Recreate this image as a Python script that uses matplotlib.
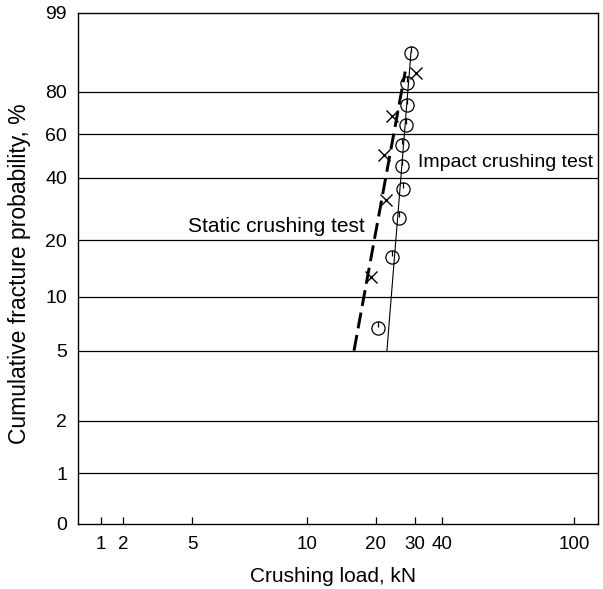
import numpy as np
import matplotlib.pyplot as plt
from matplotlib.path import Path

plt.rcParams['font.family'] = ['Liberation Sans', 'DejaVu Sans']

# data (load in kN, cumulative probability in %)
impact_load = [20.5, 23.8, 25.5, 26.5, 26.3, 26.3, 27.5, 27.7, 27.7, 28.9]
impact_prob = [6.7, 16.3, 26.0, 35.6, 45.2, 54.8, 64.4, 74.0, 83.7, 93.3]
static_load = [19.1, 22.3, 21.9, 23.8, 30.5]
static_prob = [12.8, 31.7, 50.2, 68.8, 87.3]

impact_fit_load = [22.5, 28.9]
impact_fit_prob = [5.0, 93.5]
static_fit_load = [16.1, 27.2]
static_fit_prob = [5.0, 87.8]

x_ticks = [1, 2, 5, 10, 20, 30, 40, 100]
y_ticks = [0.51, 1, 2, 5, 10, 20, 40, 60, 80, 99]
y_labels = ['0', '1', '2', '5', '10', '20', '40', '60', '80', '99']
grid_levels = [1, 2, 5, 10, 20, 40, 60, 80]

# the printed load axis is not a clean log axis, so map log10(load) through
# the spacing of the printed decades
paper_log = np.log10([0.1, 1, 2, 5, 10, 20, 30, 40, 100, 1000])
paper_pos = np.array([28, 101, 123, 192, 306.5, 375.5, 414.5, 442, 574, 906])


def x_fwd(x):
    x = np.clip(np.asarray(x, dtype=float), 1e-3, None)
    return np.interp(np.log10(x), paper_log, paper_pos)


def x_inv(p):
    return 10 ** np.interp(p, paper_pos, paper_log)


def weib_fwd(f):
    f = np.clip(np.asarray(f, dtype=float), 1e-6, 100 - 1e-6)
    return np.log(-np.log(1 - f / 100))


def weib_inv(w):
    return 100 * (1 - np.exp(-np.exp(w)))


fig = plt.figure(figsize=(6.03, 5.89), dpi=100)
ax = fig.add_axes([0.1294, 0.1104, 0.9917 - 0.1294, 0.9784 - 0.1104])
ax.set_xscale('function', functions=(x_fwd, x_inv))
ax.set_yscale('function', functions=(weib_fwd, weib_inv))
ax.set_xlim(0.484, 118)
ax.set_ylim(0.51, 99)

for lv in grid_levels:
    ax.axhline(lv, color='black', lw=0.9, zorder=1)

# circle marker with a short stroke at the top
circ = Path.unit_circle()
mark_path = Path(np.concatenate([circ.vertices, [[0, 1], [0, 0.15]]]),
                 np.concatenate([circ.codes, [Path.MOVETO, Path.LINETO]]))

ax.plot(impact_fit_load, impact_fit_prob, color='black', lw=0.8, zorder=2)
ax.plot(static_fit_load, static_fit_prob, color='black', lw=2.1,
        linestyle=(0, (5.5, 2.3)), zorder=2)
ax.plot(impact_load, impact_prob, linestyle='none', marker=mark_path,
        markersize=9.5, markerfacecolor='none', markeredgecolor='black',
        markeredgewidth=0.9, zorder=3)
ax.plot(static_load, static_prob, linestyle='none', marker='x',
        markersize=8, markeredgecolor='black', markeredgewidth=1.0, zorder=3)

ax.text(31.1, 46.4, 'Impact crushing test', fontsize=14, ha='left', va='center')
ax.text(4.74, 23.4, 'Static crushing test', fontsize=15, ha='left', va='center')

ax.set_xticks(x_ticks)
ax.set_xticklabels([str(t) for t in x_ticks])
ax.xaxis.set_minor_locator(plt.NullLocator())
ax.set_yticks(y_ticks)
ax.set_yticklabels(y_labels)
ax.yaxis.set_minor_locator(plt.NullLocator())
ax.tick_params(axis='x', direction='in', length=5, width=0.9, labelsize=13.5, pad=9)
ax.tick_params(axis='y', length=0, labelsize=14, pad=8)

for sp in ax.spines.values():
    sp.set_linewidth(1.0)

ax.set_xlabel('Crushing load, kN', fontsize=15)
ax.set_ylabel('Cumulative fracture probability, %', fontsize=16.5)
ax.xaxis.set_label_coords(0.49, -0.084)
ax.yaxis.set_label_coords(-0.09, 0.49)

fig.savefig('out.png', dpi=100)
